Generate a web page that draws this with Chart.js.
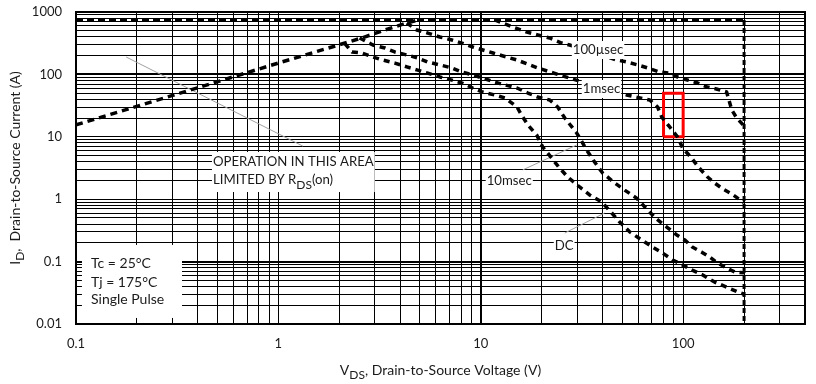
<!DOCTYPE html>
<html><head><meta charset="utf-8">
<script src="https://cdn.jsdelivr.net/npm/chart.js@4/dist/chart.umd.min.js"></script>
<style>html,body{margin:0;padding:0;background:#fff}</style>
</head><body>
<canvas id="c" width="816" height="384"></canvas>
<script>
// ---------- data ----------
const xGrid = [0.1,0.2,0.3,0.4,0.5,0.6,0.7,0.8,0.9,1,2,3,4,5,6,7,8,9,10,20,30,40,50,60,70,80,90,100,200,300,400];
const yGrid = [0.01,0.02,0.03,0.04,0.05,0.06,0.07,0.08,0.09,0.1,0.2,0.3,0.4,0.5,0.6,0.7,0.8,0.9,1,2,3,4,5,6,7,8,9,10,20,30,40,50,60,70,80,90,100,200,300,400,500,600,700,800,900,1000];
const xTickValues = [0.1, 1, 10, 100];
const xTickLabels = ['0.1', '1', '10', '100'];
const yTickValues = [0.01, 0.1, 1, 10, 100, 1000];
const yTickLabels = ['0.01', '0.1', '1', '10', '100', '1000'];
const xThick = [10];
const yThick = [0.1, 100];

const limitV = [0.1, 200];
const limitI = [745, 745];
const vmaxV = [200, 200];
const vmaxI = [745, 0.01];

const rdsV = [0.1, 0.3, 1.0, 1.94, 2.58, 3.36, 4.31, 4.9];
const rdsI = [15.5, 46, 152, 290, 383, 515, 667, 745];

const us100V = [11.7, 12.8, 14.4, 16.9, 19.1, 21.9, 25.1, 27.5, 47, 52.6, 59.6, 66.8, 76.6, 85.8, 96.1, 105, 118, 131, 146, 164, 174, 184, 200];
const us100I = [745, 667, 575, 477, 428, 383, 318, 296, 170, 158, 142, 127, 109, 105, 87.5, 81.3, 72.8, 62.8, 58.4, 52.2, 26.8, 20, 15];

const ms1V = [4.31, 4.83, 5.47, 6.28, 7.2, 8.06, 9.13, 11.5, 15.1, 19.1, 24.5, 30.8, 52.6, 68.4, 74.8, 78.4, 85.8, 93.9, 99.5, 110, 120, 132, 143, 157, 174, 200];
const ms1I = [667, 515, 460, 397, 356, 318, 275, 220, 170, 127, 98, 78, 46.8, 38.9, 30, 20.7, 14.4, 9.9, 6.6, 4.57, 3.16, 2.27, 1.82, 1.46, 1.21, 0.88];

const ms10V = [2.52, 2.93, 3.36, 3.76, 4.31, 4.89, 5.47, 6.28, 7.2, 8.06, 9.13, 10.2, 11.7, 13.2, 15.1, 17.1, 19.1, 21.9, 24, 26, 29.8, 33.4, 36.5, 40, 45.9, 51.4, 58.9, 66.8, 74, 83, 93, 102, 111, 123, 135, 148, 164, 180, 200];
const ms10I = [383, 296, 265, 229, 205, 183, 158, 142, 127, 109, 98, 87.5, 75.5, 67.6, 60.5, 50.3, 43.4, 38.9, 30, 20, 11.5, 6.1, 3.94, 2.63, 1.82, 1.40, 1.04, 0.67, 0.48, 0.358, 0.267, 0.222, 0.171, 0.143, 0.119, 0.095, 0.079, 0.068, 0.066];

const dcV = [2.13, 2.31, 2.58, 2.93, 3.28, 3.76, 4.31, 4.83, 5.47, 6.28, 7.2, 8.06, 9.13, 10.2, 11.7, 13.2, 15.1, 15.9, 17.1, 18.9, 20.2, 22.4, 24.5, 26.9, 30.8, 34.5, 39.6, 44.4, 48.6, 54.4, 62.4, 70.7, 79.2, 88.8, 99.5, 111, 125, 143, 164, 186, 200];
const dcI = [312, 229, 220, 190, 170, 152, 132, 118, 105, 91, 81, 72.8, 60.5, 52.2, 46.8, 41.8, 30, 22.3, 15.5, 10.7, 6.9, 4.57, 3.16, 2.27, 1.57, 1.17, 0.90, 0.60, 0.43, 0.30, 0.222, 0.171, 0.137, 0.106, 0.088, 0.073, 0.061, 0.047, 0.039, 0.0326, 0.030];

const boxV = [80, 100, 100, 80, 80];
const boxI = [10, 10, 50, 50, 10];

const leadOpV = [0.177, 1.32];
const leadOpI = [190, 7.1];
const lead10V = [16.1, 29.8];
const lead10I = [2.94, 7.4];
const leadDcV = [26, 40.9];
const leadDcI = [0.287, 0.60];

const curveLabels = ['100µsec', '1msec', '10msec', 'DC'];
const curveLabelV = [28.5, 31.9, 10.7, 23.2];
const curveLabelI = [246, 58.4, 1.96, 0.178];

const noteLines = ['Tc = 25°C', 'Tj = 175°C', 'Single Pulse'];
const noteV = 0.1186;
const noteI = [0.0917, 0.0471, 0.0243];
const noteBoxV = [0.107, 0.334];
const noteBoxI = [0.0125, 0.185];

const opLine1 = 'OPERATION IN THIS AREA';
const opLine2 = [{t:'LIMITED BY R'}, {t:'DS', sub:true}, {t:'(on)'}];
const opV = 0.475;
const opI = [3.95, 2.03];

const xTitle = [{t:'V'}, {t:'DS', sub:true}, {t:', Drain-to-Source Voltage (V)'}];
const yTitle = [{t:'I'}, {t:'D', sub:true}, {t:',  Drain-to-Source Current (A)'}];

// ---------- chart ----------
const FONT = 'Lato';
const TXT = '#1a1a1a';
const LBL = 13.2;
const pts = (vs, is) => vs.map((v, i) => ({x: v, y: is[i]}));
function ds(vs, is, o) {
  return Object.assign({data: pts(vs, is), borderColor: '#000', pointRadius: 0, pointHoverRadius: 0,
    fill: false, tension: 0, borderCapStyle: 'butt', borderJoinStyle: 'round'}, o);
}

function richWidth(ctx, parts, size, sub) {
  let w = 0;
  for (const p of parts) { ctx.font = (p.sub ? sub : size) + 'px ' + FONT; w += ctx.measureText(p.t).width; }
  return w;
}
function drawRich(ctx, parts, x, y, size, sub, dy) {
  ctx.textBaseline = 'middle'; ctx.textAlign = 'left';
  let cx = x;
  for (const p of parts) {
    ctx.font = (p.sub ? sub : size) + 'px ' + FONT;
    ctx.fillText(p.t, cx, y + (p.sub ? dy : 0));
    cx += ctx.measureText(p.t).width;
  }
}

const textPlugin = {
  id: 'texts',
  beforeDatasetsDraw(chart) {
    const {ctx, chartArea: a} = chart;
    ctx.save();
    ctx.strokeStyle = '#000'; ctx.lineWidth = 2;
    ctx.beginPath();
    ctx.moveTo(a.left, a.top); ctx.lineTo(a.right, a.top); ctx.lineTo(a.right, a.bottom);
    ctx.stroke();
    ctx.restore();
  },
  afterDatasetsDraw(chart) {
    const {ctx, chartArea: a, scales: {x, y}} = chart;
    ctx.save();
    ctx.fillStyle = '#fff';
    // note box
    const bx0 = x.getPixelForValue(noteBoxV[0]), bx1 = x.getPixelForValue(noteBoxV[1]);
    const by0 = y.getPixelForValue(noteBoxI[1]), by1 = y.getPixelForValue(noteBoxI[0]);
    ctx.fillRect(bx0, by0, bx1 - bx0, by1 - by0);
    ctx.fillStyle = TXT;
    ctx.font = '14px ' + FONT; ctx.textBaseline = 'middle'; ctx.textAlign = 'left';
    noteLines.forEach((t, i) => ctx.fillText(t, x.getPixelForValue(noteV), y.getPixelForValue(noteI[i])));

    // operation label
    const ox = x.getPixelForValue(opV);
    const oy1 = y.getPixelForValue(opI[0]), oy2 = y.getPixelForValue(opI[1]);
    ctx.font = LBL + 'px ' + FONT;
    const w1 = ctx.measureText(opLine1).width;
    const w2 = richWidth(ctx, opLine2, LBL, 12);
    ctx.fillStyle = '#fff';
    ctx.fillRect(ox - 1, oy1 - 10, Math.max(w1, w2) + 2, oy2 - oy1 + 22);
    ctx.fillStyle = TXT;
    ctx.font = LBL + 'px ' + FONT;
    ctx.fillText(opLine1, ox, oy1);
    drawRich(ctx, opLine2, ox, oy2, LBL, 12, 5);

    // curve labels
    curveLabels.forEach((t, i) => {
      const px = x.getPixelForValue(curveLabelV[i]), py = y.getPixelForValue(curveLabelI[i]);
      ctx.font = LBL + 'px ' + FONT;
      const w = ctx.measureText(t).width;
      ctx.fillStyle = '#fff';
      ctx.fillRect(px - 1, py - 9, w + 2, 18);
      ctx.fillStyle = TXT;
      ctx.textBaseline = 'middle';
      ctx.fillText(t, px, py);
    });

    // axis titles
    const xw = richWidth(ctx, xTitle, 14, 12);
    drawRich(ctx, xTitle, (a.left + a.right) / 2 - xw / 2, 370, 14, 12, 5);
    const yw = richWidth(ctx, yTitle, 14, 12);
    ctx.translate(15, (a.top + a.bottom) / 2);
    ctx.rotate(-Math.PI / 2);
    drawRich(ctx, yTitle, -yw / 2, 0, 14, 12, 5);
    ctx.restore();
  }
};

new Chart(document.getElementById('c'), {
  type: 'line',
  data: {
    datasets: [
      ds(limitV, limitI, {borderWidth: 3, borderDash: [7, 4]}),
      ds(vmaxV, vmaxI, {borderWidth: 3, borderDash: [5, 3]}),
      ds(rdsV, rdsI, {borderWidth: 3.5, borderDash: [7, 5]}),
      ds(us100V, us100I, {borderWidth: 3.5, borderDash: [6, 5]}),
      ds(ms1V, ms1I, {borderWidth: 3.5, borderDash: [6, 5]}),
      ds(ms10V, ms10I, {borderWidth: 3.5, borderDash: [6, 5]}),
      ds(dcV, dcI, {borderWidth: 3.5, borderDash: [6, 5]}),
      ds(boxV, boxI, {borderWidth: 3, borderColor: '#ff0000', borderJoinStyle: 'miter'}),
      ds(leadOpV, leadOpI, {borderWidth: 1, borderColor: '#a0a0a0'}),
      ds(lead10V, lead10I, {borderWidth: 1, borderColor: '#a0a0a0'}),
      ds(leadDcV, leadDcI, {borderWidth: 1, borderColor: '#a0a0a0'})
    ]
  },
  options: {
    responsive: false,
    devicePixelRatio: 1,
    animation: false,
    events: [],
    layout: {padding: {top: 12, right: 11, left: 0, bottom: 0}},
    plugins: {legend: {display: false}, tooltip: {enabled: false}},
    scales: {
      x: {
        type: 'logarithmic', min: 0.1, max: 400,
        afterBuildTicks: s => { s.ticks = xGrid.map(v => ({value: v})); },
        afterFit: s => { s.height = 60; s.paddingLeft = 0; s.paddingRight = 0; },
        grid: {color: '#000', drawTicks: false, lineWidth: c => (c.tick && xThick.includes(c.tick.value)) ? 2 : 1},
        border: {display: true, color: '#000', width: 2},
        ticks: {autoSkip: false, maxRotation: 0, padding: 12, color: TXT, font: {family: FONT, size: 13},
          callback: v => { const k = xTickValues.indexOf(v); return k >= 0 ? xTickLabels[k] : ''; }}
      },
      y: {
        type: 'logarithmic', min: 0.01, max: 1000,
        afterBuildTicks: s => { s.ticks = yGrid.map(v => ({value: v})); },
        afterFit: s => { s.width = 76; s.paddingTop = 0; s.paddingBottom = 0; },
        grid: {color: '#000', drawTicks: false, lineWidth: c => (c.tick && yThick.includes(c.tick.value)) ? 2 : 1},
        border: {display: true, color: '#000', width: 2},
        ticks: {autoSkip: false, padding: 14, color: TXT, font: {family: FONT, size: 13},
          callback: v => { const k = yTickValues.indexOf(v); return k >= 0 ? yTickLabels[k] : ''; }}
      }
    }
  },
  plugins: [textPlugin]
});
</script>
</body></html>
